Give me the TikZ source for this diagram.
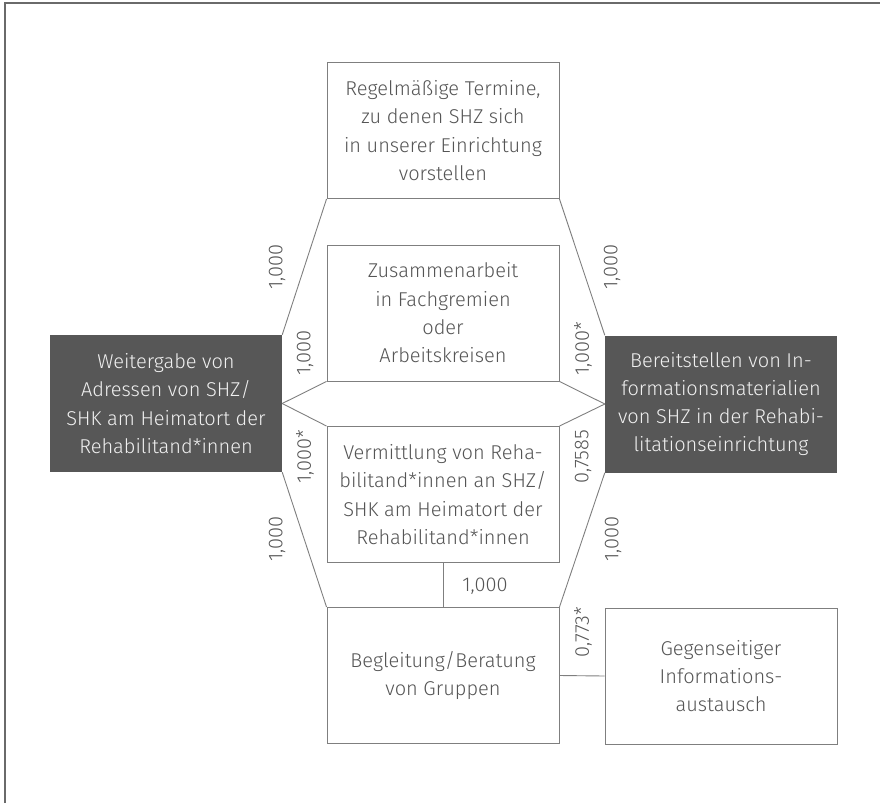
\documentclass[tikz,border=0pt]{standalone}
\usepackage{fontspec}
\setmainfont{Fira Sans}[UprightFont=* Light]
\definecolor{txt}{HTML}{555555}
\definecolor{ln}{HTML}{7F7F7F}
\definecolor{dark}{HTML}{575757}
\definecolor{lighttxt}{HTML}{F0F0F0}
\definecolor{frame}{HTML}{6A6A6A}
\begin{document}
\begin{tikzpicture}[x=1pt,y=-1pt,
  every node/.style={font=\fontsize{20}{28.3}\selectfont},
  wbox/.style={draw=ln,line width=0.9pt,fill=white,text=txt,minimum width=232pt,minimum height=136pt,inner sep=0pt,align=center},
  dbox/.style={draw=none,fill=dark,text=lighttxt,minimum width=232pt,minimum height=137pt,inner sep=0pt,align=center},
  conn/.style={draw=ln,line width=0.9pt},
  lbl/.style={text=txt,rotate=90,inner sep=0pt},
  hlbl/.style={text=txt,inner sep=0pt}]
\useasboundingbox (0,0) rectangle (880,803);
\draw[frame,line width=1.5pt] (5,803) -- (5,3) -- (880,3);
\node[wbox] (top) at (443,130.5) {Regelmäßige Termine,\\zu denen SHZ sich\\in unserer Einrichtung\\vorstellen};
\node[wbox] (b2) at (443,313) {Zusammenarbeit\\in Fachgremien\\oder\\Arbeitskreisen};
\node[wbox] (b3) at (443,494.5) {Vermittlung von Reha-\\bilitand*innen an SHZ/\\SHK am Heimatort der\\Rehabilitand*innen};
\node[wbox] (b4) at (443,675.5) {Begleitung/Beratung\\von Gruppen};
\node[wbox] (b5) at (721,676) {Gegenseitiger\\Informations-\\austausch};
\node[dbox] (L) at (166,403.5) {Weitergabe von\\Adressen von SHZ/\\SHK am Heimatort der\\Rehabilitand*innen};
\node[dbox] (R) at (721,404) {Bereitstellen von In-\\formationsmaterialien\\von SHZ in der Rehabi-\\litationseinrichtung};
\draw[conn] (L.north east) -- (top.south west);
\draw[conn] (L.east) -- (b2.south west);
\draw[conn] (L.east) -- (b3.north west);
\draw[conn] (L.south east) -- (b4.north west);
\draw[conn] (R.north west) -- (top.south east);
\draw[conn] (R.west) -- (b2.south east);
\draw[conn] (R.west) -- (b3.north east);
\draw[conn] (R.south west) -- (b4.north east);
\draw[conn] (b3.south) -- (b4.north);
\draw[conn] (b4.east) -- (b5.west);
\node[lbl] (l1) at (277,267) {1,000};
\node[lbl] (l2) at (305,353) {1,000};
\node[lbl] (l3) at (305,457) {1,000*};
\node[lbl] (l4) at (277,539) {1,000};
\node[lbl] (r1) at (612,267) {1,000};
\node[lbl] (r2) at (583,349) {1,000*};
\node[lbl] (r3) at (583,457) {0,7585};
\node[lbl] (r4) at (613,539) {1,000};
\node[hlbl] (m1) at (485,586) {1,000};
\node[lbl] (m2) at (583,632) {0,773*};
\end{tikzpicture}
\end{document}
